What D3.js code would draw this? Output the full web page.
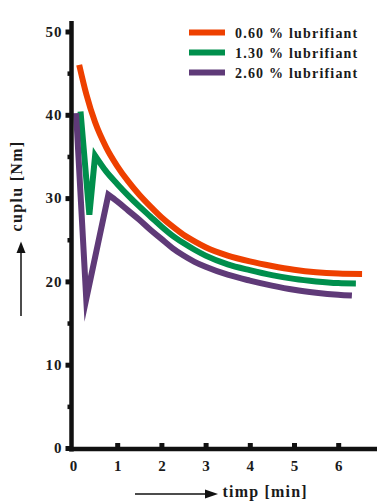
<!DOCTYPE html>
<html>
<head>
<meta charset="utf-8">
<script src="https://cdn.jsdelivr.net/npm/d3@7"></script>
<style>
  html, body { margin: 0; padding: 0; background: #fff; }
  svg { display: block; }
  text { font-family: "Liberation Serif", "Times New Roman", serif; font-weight: bold; fill: #1a1a1a; }
</style>
</head>
<body>
<svg id="chart" width="377" height="502"></svg>
<script>
// ---- data ----
const seriesNames = ["0.60 % lubrifiant", "1.30 % lubrifiant", "2.60 % lubrifiant"];
const seriesColors = ["#ee4000", "#008f4c", "#5f3a78"];

// time [min] and torque [Nm]
const tOrange = [0.14, 0.3, 0.5, 0.75, 1.0, 1.25, 1.5, 1.75, 2.0, 2.25, 2.5, 2.75, 3.0, 3.5, 4.0, 4.5, 5.0, 5.5, 6.0, 6.54];
const vOrange = [46.0, 42.5, 39.1, 36.1, 33.85, 32.0, 30.4, 29.0, 27.7, 26.6, 25.6, 24.8, 24.1, 23.1, 22.4, 21.85, 21.4, 21.1, 20.95, 20.9];

const tGreen = [0.17, 0.37, 0.50, 0.75, 1.0, 1.25, 1.5, 1.75, 2.0, 2.25, 2.5, 2.75, 3.0, 3.5, 4.0, 4.5, 5.0, 5.5, 6.0, 6.40];
const vGreen = [40.4, 28.0, 35.1, 33.2, 31.7, 30.3, 29.0, 27.8, 26.6, 25.5, 24.6, 23.8, 23.1, 22.05, 21.35, 20.75, 20.3, 20.0, 19.8, 19.75];

const tPurple = [0.07, 0.30, 0.80, 1.0, 1.25, 1.5, 1.75, 2.0, 2.25, 2.5, 2.75, 3.0, 3.5, 4.0, 4.5, 5.0, 5.5, 6.0, 6.31];
const vPurple = [40.2, 17.9, 30.4, 29.6, 28.5, 27.4, 26.2, 25.1, 24.0, 23.1, 22.35, 21.75, 20.8, 20.1, 19.5, 19.0, 18.65, 18.4, 18.3];

// number of leading points joined by straight segments (the start-up spike)
const spikeCounts = [0, 2, 2];

const xTicks = [0, 1, 2, 3, 4, 5, 6];
const yTicks = [0, 10, 20, 30, 40, 50];
const yMinorTicks = [5, 15, 25, 35, 45];
const xTitle = "timp [min]";
const yTitle = "cuplu [Nm]";

// ---- drawing ----
const svg = d3.select("#chart");
const x = d3.scaleLinear().domain([0, 6]).range([73, 338.2]);
const y = d3.scaleLinear().domain([0, 50]).range([448, 31.5]);
const axisX = 71.5, axisY = 449;

const series = [
  {t: tOrange, v: vOrange},
  {t: tGreen, v: vGreen},
  {t: tPurple, v: vPurple}
];

// curves
series.forEach((s, i) => {
  const pts = s.t.map((t, k) => [x(t), y(s.v[k])]);
  const n = spikeCounts[i];
  const lin = d3.line();
  const smooth = d3.line().curve(d3.curveMonotoneX);
  let d;
  if (n > 0) {
    d = lin(pts.slice(0, n)) + smooth(pts.slice(n)).replace(/^M/, "L");
  } else {
    d = smooth(pts);
  }
  svg.append("path")
    .attr("d", d)
    .attr("fill", "none")
    .attr("stroke", seriesColors[i])
    .attr("stroke-width", 6)
    .attr("stroke-linejoin", "miter")
    .attr("stroke-miterlimit", 10)
    .attr("stroke-linecap", "butt");
});

// y axis
const yAxisG = svg.append("g").attr("transform", `translate(${axisX},0)`)
  .call(d3.axisLeft(y).tickValues(yTicks).tickSize(6).tickPadding(3).tickFormat(d3.format("d")));
yAxisG.select(".domain").remove();
yAxisG.selectAll(".tick line").attr("stroke", "#111").attr("stroke-width", 5);
yAxisG.selectAll(".tick text")
  .style("font-family", '"Liberation Serif", serif').style("font-weight", "bold")
  .style("font-size", "15px").style("letter-spacing", "1px").attr("fill", "#1a1a1a");

const yMinorG = svg.append("g").attr("transform", `translate(${axisX},0)`)
  .call(d3.axisLeft(y).tickValues(yMinorTicks).tickSize(4).tickFormat(""));
yMinorG.select(".domain").remove();
yMinorG.selectAll(".tick line").attr("stroke", "#111").attr("stroke-width", 4.5);

// x axis
const xAxisG = svg.append("g").attr("transform", `translate(0,${axisY})`)
  .call(d3.axisBottom(x).tickValues(xTicks).tickSize(-6).tickPadding(11).tickFormat(d3.format("d")));
xAxisG.select(".domain").remove();
xAxisG.selectAll(".tick line").attr("stroke", "#111").attr("stroke-width", 5)
  .filter(d => d === 0).remove();
xAxisG.selectAll(".tick text")
  .style("font-family", '"Liberation Serif", serif').style("font-weight", "bold")
  .style("font-size", "15px").attr("fill", "#1a1a1a");

// axis lines
svg.append("line").attr("x1", axisX).attr("x2", axisX).attr("y1", 21).attr("y2", axisY + 2.5)
  .attr("stroke", "#111").attr("stroke-width", 4.5);
svg.append("line").attr("x1", axisX - 2.5).attr("x2", 377).attr("y1", axisY).attr("y2", axisY)
  .attr("stroke", "#111").attr("stroke-width", 4.5);

// axis titles with arrows
svg.append("text")
  .attr("transform", "translate(21.7,186) rotate(-90)")
  .attr("text-anchor", "middle")
  .style("font-size", "16px").style("letter-spacing", "1.3px")
  .text(yTitle);
svg.append("line").attr("x1", 21).attr("x2", 21).attr("y1", 316).attr("y2", 250)
  .attr("stroke", "#111").attr("stroke-width", 1.5);
svg.append("path").attr("d", "M21,241.5L16.5,253L25.5,253Z").attr("fill", "#111");

svg.append("text")
  .attr("x", 222.5).attr("y", 497)
  .style("font-size", "16px").style("letter-spacing", "1.2px")
  .text(xTitle);
svg.append("line").attr("x1", 135).attr("x2", 206).attr("y1", 494).attr("y2", 494)
  .attr("stroke", "#111").attr("stroke-width", 1.5);
svg.append("path").attr("d", "M218,494L205,489.5L205,498.5Z").attr("fill", "#111");

// legend
const legend = svg.append("g");
seriesNames.forEach((name, i) => {
  const ly = 32.5 + i * 20;
  legend.append("line").attr("x1", 189).attr("x2", 225).attr("y1", ly).attr("y2", ly)
    .attr("stroke", seriesColors[i]).attr("stroke-width", 6);
  legend.append("text").attr("x", 235).attr("y", ly + 5.5)
    .style("font-size", "14px").style("letter-spacing", "1.2px")
    .text(name);
});
</script>
</body>
</html>
